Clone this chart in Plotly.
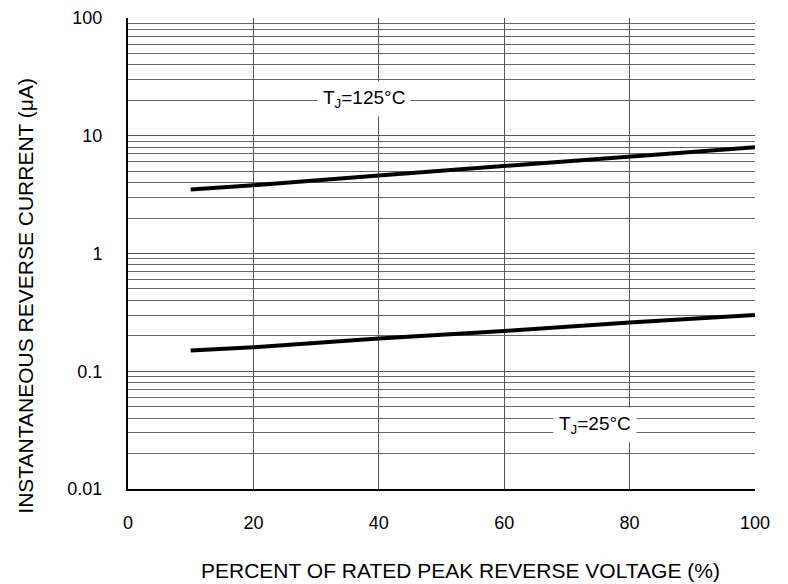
import plotly.graph_objects as go

pct = [10, 20, 40, 60, 80, 100]
i_125 = [3.5, 3.8, 4.6, 5.5, 6.6, 8.0]
i_25 = [0.15, 0.16, 0.19, 0.22, 0.26, 0.30]

x_ticks = [0, 20, 40, 60, 80, 100]
y_ticks = [0.01, 0.1, 1, 10, 100]
y_ticktext = ["0.01", "0.1", "1", "10", "100"]

x_title = "PERCENT OF RATED PEAK REVERSE VOLTAGE (%)"
y_title = "INSTANTANEOUS REVERSE CURRENT (μA)"

fig = go.Figure()
for ys in (i_125, i_25):
    fig.add_trace(go.Scatter(x=pct, y=ys, mode="lines",
                             line=dict(color="black", width=4), showlegend=False))

fig.add_annotation(x=37.6, y=1.31, xref="x", yref="y", text="T<sub>J</sub>=125°C",
                   showarrow=False, bgcolor="white", borderpad=5,
                   font=dict(size=19, color="black"))
fig.add_annotation(x=74.5, y=-1.456, xref="x", yref="y", text="T<sub>J</sub>=25°C",
                   showarrow=False, bgcolor="white", borderpad=5,
                   font=dict(size=19, color="black"))

# axis titles placed as annotations to match reference offsets
fig.add_annotation(x=0.531, y=-0.174, xref="paper", yref="paper", text=x_title,
                   showarrow=False, xanchor="center", yanchor="middle",
                   font=dict(size=21, color="black"))
fig.add_annotation(x=-0.163, y=0.41, xref="paper", yref="paper", text=y_title,
                   showarrow=False, xanchor="center", yanchor="middle", textangle=-90,
                   font=dict(size=21, color="black"))

fig.update_layout(
    width=788, height=584,
    margin=dict(l=120, r=41, t=10, b=103),
    paper_bgcolor="white", plot_bgcolor="white",
    font=dict(family="Liberation Sans, Arial", size=18, color="black"),
    xaxis=dict(range=[0, 100], tickvals=x_ticks, showgrid=True, gridcolor="#555",
               gridwidth=1, showline=True, linecolor="black", linewidth=2,
               ticks="", zeroline=False, automargin=False, ticklabelstandoff=16,
               tickfont=dict(size=18)),
    yaxis=dict(type="log", range=[-2, 2], tickvals=y_ticks, ticktext=y_ticktext,
               showgrid=True, gridcolor="#555", gridwidth=1,
               minor=dict(dtick="D1", showgrid=True, gridcolor="#666", gridwidth=1, ticks=""),
               showline=True, linecolor="black", linewidth=2, ticks="", zeroline=False,
               automargin=False, tickfont=dict(size=18), ticklabelstandoff=20),
)
fig.write_html("out.html")
